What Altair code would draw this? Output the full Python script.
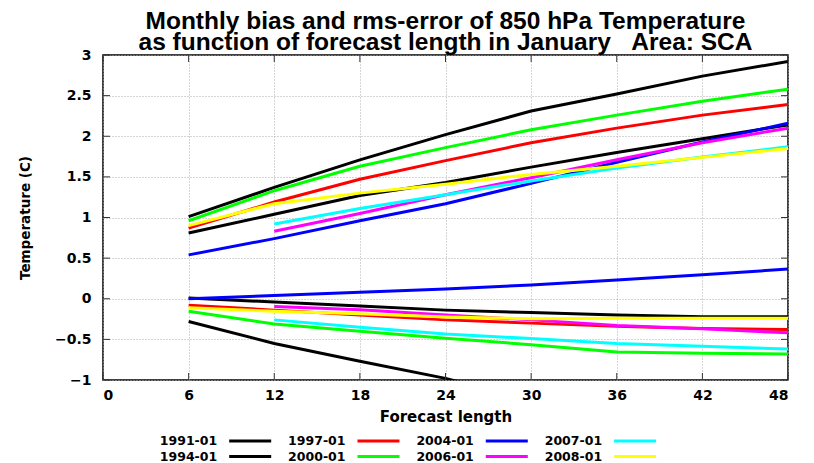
import altair as alt
import pandas as pd

# ---------------- data ----------------
hours = [6, 12, 18, 24, 30, 36, 42, 48]
hours12 = [12, 18, 24, 30, 36, 42, 48]

years = ["1991-01", "1994-01", "1997-01", "2000-01", "2004-01", "2006-01", "2007-01", "2008-01"]
colors = ["#000000", "#000000", "#ff0000", "#00ff00", "#0000ff", "#ff00ff", "#00ffff", "#ffff00"]

rms_1991 = [1.01, 1.37, 1.71, 2.02, 2.31, 2.52, 2.74, 2.92]
rms_1994 = [0.81, 1.04, 1.27, 1.43, 1.62, 1.80, 1.97, 2.14]
rms_1997 = [0.87, 1.19, 1.47, 1.70, 1.92, 2.10, 2.26, 2.39]
rms_2000 = [0.96, 1.33, 1.63, 1.86, 2.08, 2.26, 2.43, 2.58]
rms_2004 = [0.54, 0.74, 0.96, 1.17, 1.42, 1.68, 1.93, 2.16]
rms_2006 = [0.83, 1.05, 1.28, 1.49, 1.71, 1.92, 2.10]
rms_2007 = [0.92, 1.11, 1.28, 1.45, 1.61, 1.745, 1.87]
rms_2008 = [0.90, 1.17, 1.30, 1.41, 1.53, 1.63, 1.74, 1.85]

bias_1991 = [-0.28, -0.55, -0.77, -0.98, -1.25]
bias_1994 = [0.01, -0.04, -0.09, -0.14, -0.17, -0.20, -0.22, -0.22]
bias_1997 = [-0.08, -0.14, -0.20, -0.26, -0.30, -0.34, -0.365, -0.38]
bias_2000 = [-0.155, -0.31, -0.40, -0.485, -0.565, -0.655, -0.67, -0.68]
bias_2004 = [0.00, 0.04, 0.08, 0.12, 0.17, 0.23, 0.295, 0.365]
bias_2006 = [-0.095, -0.135, -0.20, -0.26, -0.33, -0.37, -0.42]
bias_2007 = [-0.26, -0.35, -0.435, -0.49, -0.55, -0.585, -0.62]
bias_2008 = [-0.11, -0.155, -0.185, -0.225, -0.245, -0.24, -0.24, -0.24]

series = [
    ("1991-01", "rms", hours, rms_1991), ("1991-01", "bias", hours[:5], bias_1991),
    ("1994-01", "rms", hours, rms_1994), ("1994-01", "bias", hours, bias_1994),
    ("1997-01", "rms", hours, rms_1997), ("1997-01", "bias", hours, bias_1997),
    ("2000-01", "rms", hours, rms_2000), ("2000-01", "bias", hours, bias_2000),
    ("2004-01", "rms", hours, rms_2004), ("2004-01", "bias", hours, bias_2004),
    ("2006-01", "rms", hours12, rms_2006), ("2006-01", "bias", hours12, bias_2006),
    ("2007-01", "rms", hours12, rms_2007), ("2007-01", "bias", hours12, bias_2007),
    ("2008-01", "rms", hours, rms_2008), ("2008-01", "bias", hours, bias_2008),
]

rows = []
for i, (yr, kind, xs, vs) in enumerate(series):
    for x, v in zip(xs, vs):
        rows.append({"sid": f"{i:02d} {yr} {kind}", "year": yr, "hour": x, "value": v})
df = pd.DataFrame(rows)

x_ticks = [0, 6, 12, 18, 24, 30, 36, 42, 48]
y_ticks = [-1, -0.5, 0, 0.5, 1, 1.5, 2, 2.5, 3]

FONT = "DejaVu Sans"
NB = "\u00a0"

color_scale = alt.Scale(domain=years, range=colors)
xs = alt.Scale(domain=[0, 48], nice=False, zero=False)
ys = alt.Scale(domain=[-1, 3], nice=False, zero=False)

common_axis = dict(ticks=False, grid=True, gridDash=[1, 2], gridColor="#aaaaaa",
                   domain=False, labelFont=FONT, titleFont=FONT, labelFontWeight="bold",
                   titleFontWeight="bold", labelColor="black", titleColor="black",
                   labelFontSize=14)

lines = alt.Chart(df).mark_line(strokeWidth=3, clip=True).encode(
    x=alt.X("hour:Q", scale=xs, title="Forecast length",
            axis=alt.Axis(values=x_ticks, format="d", labelPadding=8, titlePadding=7,
                          titleFontSize=15, **common_axis)),
    y=alt.Y("value:Q", scale=ys, title="Temperature (C)",
            axis=alt.Axis(values=y_ticks, format="~g", labelPadding=12, titlePadding=22,
                          titleFontSize=13.5, **common_axis)),
    color=alt.Color("year:N", scale=color_scale, legend=None),
    detail="sid:N",
)

ydf = pd.DataFrame({"v": y_ticks})
xdf = pd.DataFrame({"v": x_ticks})
tick_style = dict(color="#333333", strokeWidth=1)
left_ticks = alt.Chart(ydf).mark_rule(x2Offset=7, **tick_style).encode(
    y="v:Q", x=alt.datum(0), x2=alt.datum(0))
right_ticks = alt.Chart(ydf).mark_rule(xOffset=-7, **tick_style).encode(
    y="v:Q", x=alt.datum(48), x2=alt.datum(48))
bottom_ticks = alt.Chart(xdf).mark_rule(y2Offset=-7, **tick_style).encode(
    x="v:Q", y=alt.datum(-1), y2=alt.datum(-1))
top_ticks = alt.Chart(xdf).mark_rule(y2Offset=7, **tick_style).encode(
    x="v:Q", y=alt.datum(3), y2=alt.datum(3))

main = alt.layer(lines, left_ticks, right_ticks, bottom_ticks, top_ticks).properties(
    width=685, height=325,
    view=alt.ViewBackground(stroke="black", strokeWidth=1.5),
    title=alt.TitleParams(
        ["Monthly bias and rms-error of 850 hPa Temperature",
         "as function of forecast length in January" + NB * 3 + "Area: SCA"],
        anchor="middle", frame="group", font="Liberation Sans", fontSize=24.5,
        fontWeight="bold", color="black", lineHeight=20.5, offset=-7),
)

# ---------------- legend (label left of line, 4 columns x 2 rows) ----------------
leg_df = pd.DataFrame({
    "label": years,
    "col": [0, 0, 1, 1, 2, 2, 3, 3],
    "row": [0, 1, 0, 1, 0, 1, 0, 1],
})
lx = alt.Scale(domain=[-0.89, 4.449], nice=False, zero=False)
ly = alt.Scale(domain=[0, 1], nice=False, zero=False, reverse=True)
leg_text = alt.Chart(leg_df).mark_text(align="right", baseline="middle", font=FONT,
                                       fontWeight="bold", fontSize=12.5, color="black").encode(
    x=alt.X("col:Q", scale=lx, axis=None),
    y=alt.Y("row:Q", scale=ly, axis=None),
    text="label:N",
)
leg_line = alt.Chart(leg_df).mark_rule(xOffset=12, x2Offset=54, strokeWidth=3).encode(
    x=alt.X("col:Q", scale=lx, axis=None),
    x2="col:Q",
    y=alt.Y("row:Q", scale=ly, axis=None),
    color=alt.Color("label:N", scale=color_scale, legend=None),
)
legend = alt.layer(leg_text, leg_line).properties(width=685, height=15.6)

chart = alt.vconcat(main, legend, spacing=10).properties(
    padding={"left": 17, "top": 8, "right": 5, "bottom": 0}
).configure_view(stroke=None)

chart.save("out.html", embed_options={"renderer": "svg", "actions": False})
